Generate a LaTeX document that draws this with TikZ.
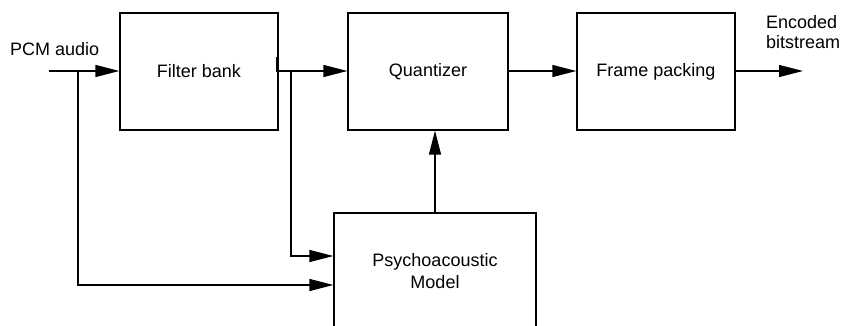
\documentclass[tikz,border=0pt]{standalone}
\usepackage{fontspec}
\setmainfont{Liberation Sans}
\usetikzlibrary{arrows.meta}
\begin{document}
\begin{tikzpicture}[x=1pt,y=1pt,
  blk/.style={draw, line width=1.3pt, rectangle, inner sep=0pt, align=center,
    font=\fontsize{18}{22}\selectfont},
  lbl/.style={inner sep=0pt, align=left, font=\fontsize{18}{20}\selectfont},
  conn/.style={line width=1.3pt},
  arr/.style={conn, -{Triangle[length=24pt,width=12pt]}}]
\useasboundingbox (0,0) rectangle (844,-326);
\clip (0,0) rectangle (844,-326);
\node[blk, minimum width=158pt, minimum height=117pt] (fb) at (199,-71.5) {Filter bank};
\node[blk, minimum width=160pt, minimum height=117pt] (q) at (428,-71.5) {Quantizer};
\node[blk, minimum width=158pt, minimum height=117pt] (fp) at (656,-71.5) {Frame packing};
\node[blk, minimum width=202pt, minimum height=116pt] (pm) at (435,-271) {Psychoacoustic\\Model};
\node[lbl, anchor=west] (pcm) at (10,-49) {PCM audio};
\node[lbl, anchor=north west] (enc) at (766,-15) {Encoded\\bitstream};
\coordinate (in) at (49,-71);
\coordinate (b1) at (78,-71);
\coordinate (fbo) at (277,-57);
\coordinate (b2) at (291,-71);
\coordinate (out) at (803,-71);
\draw[arr] (in) -- (fb.west |- in);
\draw[arr] (b1) |- ([yshift=-14pt]pm.west);
\draw[arr] (fbo) -- (fbo |- in) -- (q.west |- in);
\draw[arr] (b2) |- ([yshift=15pt]pm.west);
\draw[arr] (pm.north) -- (q.south -| pm.north);
\draw[arr] (q.east |- in) -- (fp.west |- in);
\draw[arr] (fp.east |- in) -- (out);
\end{tikzpicture}
\end{document}
